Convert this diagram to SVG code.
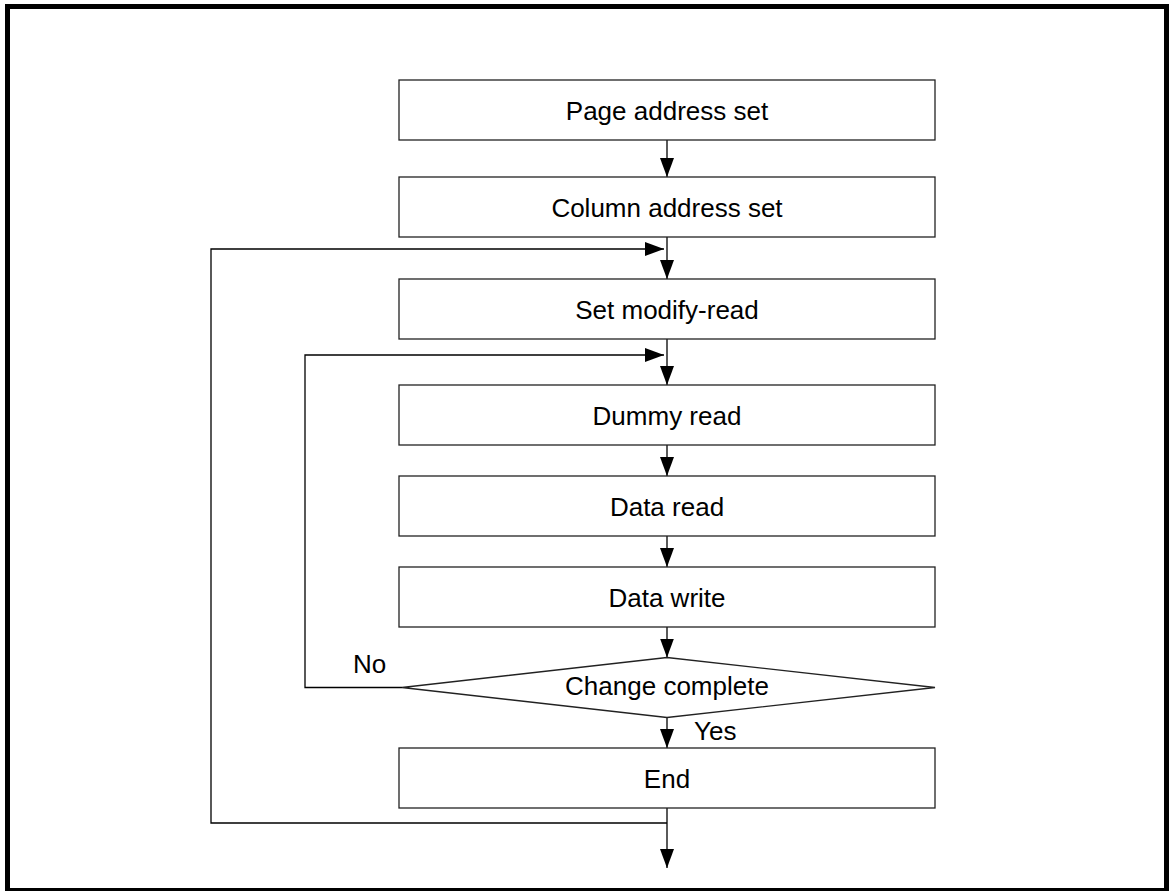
<svg xmlns="http://www.w3.org/2000/svg" width="1169" height="891" viewBox="0 0 1169 891">
<style>
.box{fill:#fff;stroke:#222;stroke-width:1.3}
.lbl{font-family:"Liberation Sans",Arial,sans-serif;font-size:26px;fill:#000;text-anchor:middle}
.side{font-family:"Liberation Sans",Arial,sans-serif;font-size:26px;fill:#000}
.con{fill:none;stroke:#000;stroke-width:1.3}
</style>
<defs>
<marker id="ah" markerUnits="userSpaceOnUse" markerWidth="20" markerHeight="15" refX="19" refY="7" orient="auto">
<path d="M0,0 L19,7 L0,14 z" fill="#000"/>
</marker>
</defs>
<rect x="7.5" y="6.5" width="1159" height="884" fill="#fff" stroke="#000" stroke-width="5"/>
<g id="connectors">
<path class="con" d="M667,140 V177" marker-end="url(#ah)"/>
<path class="con" d="M667,237 V279" marker-end="url(#ah)"/>
<path class="con" d="M667,339 V385" marker-end="url(#ah)"/>
<path class="con" d="M667,445 V476" marker-end="url(#ah)"/>
<path class="con" d="M667,536 V567" marker-end="url(#ah)"/>
<path class="con" d="M667,627 V657.5" marker-end="url(#ah)"/>
<path class="con" d="M667,717.5 V748" marker-end="url(#ah)"/>
<path class="con" d="M667,808 V868" marker-end="url(#ah)"/>
<path class="con" d="M667,823 H211 V249 H664" marker-end="url(#ah)"/>
<path class="con" d="M402,687.5 H305 V355 H664" marker-end="url(#ah)"/>
</g>
<g id="page-address-set"><rect class="box" x="399" y="80" width="536" height="60"/><text class="lbl" x="667" y="119.5">Page address set</text></g>
<g id="column-address-set"><rect class="box" x="399" y="177" width="536" height="60"/><text class="lbl" x="667" y="216.5">Column address set</text></g>
<g id="set-modify-read"><rect class="box" x="399" y="279" width="536" height="60"/><text class="lbl" x="667" y="318.5">Set modify-read</text></g>
<g id="dummy-read"><rect class="box" x="399" y="385" width="536" height="60"/><text class="lbl" x="667" y="424.5">Dummy read</text></g>
<g id="data-read"><rect class="box" x="399" y="476" width="536" height="60"/><text class="lbl" x="667" y="515.5">Data read</text></g>
<g id="data-write"><rect class="box" x="399" y="567" width="536" height="60"/><text class="lbl" x="667" y="606.5">Data write</text></g>
<g id="change-complete"><polygon class="box" points="402,687.5 667,657.5 935,687.5 667,717.5"/><text class="lbl" x="667" y="695">Change complete</text></g>
<g id="end"><rect class="box" x="399" y="748" width="536" height="60"/><text class="lbl" x="667" y="787.5">End</text></g>
<g id="labels">
<text class="side" x="353" y="673">No</text>
<text class="side" x="694" y="740">Yes</text>
</g>
</svg>
